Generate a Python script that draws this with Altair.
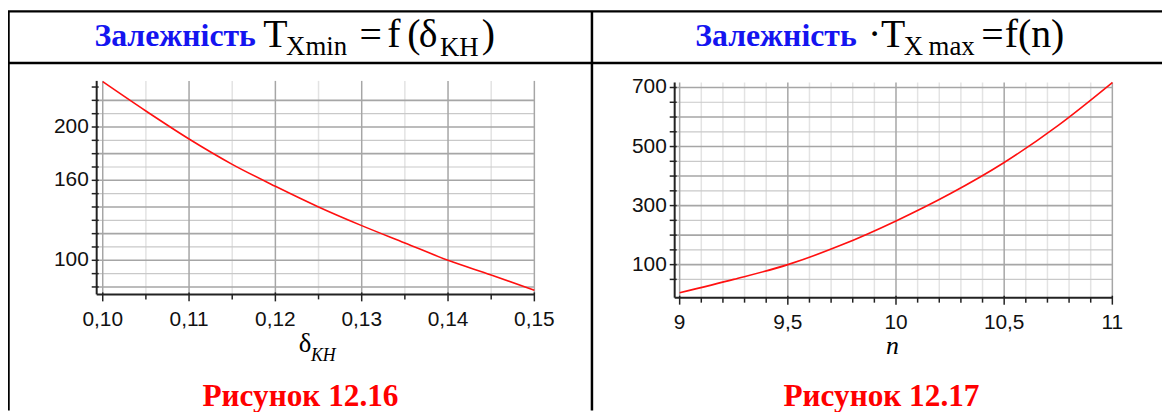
import altair as alt
import pandas as pd

# ---------------- data ----------------
# left panel: T_Xmin = f(delta_KH)
delta_kh = [0.100, 0.105, 0.110, 0.115, 0.120, 0.125, 0.130, 0.135, 0.140, 0.145, 0.150]
t_xmin = [234, 212, 191, 172, 155.5, 140, 126, 113, 100, 89, 77.5]

# right panel: T_Xmax = f(n)
n_vals = [9.0, 9.25, 9.5, 9.75, 10.0, 10.25, 10.5, 10.75, 11.0]
t_xmax = [5, 50, 100, 167, 248, 340, 446, 572, 717]

# left panel axes
a_x_domain = [0.0993, 0.150]
a_y_domain = [74.4, 234.6]
a_x_major = [0.10, 0.11, 0.12, 0.13, 0.14, 0.15]
a_x_major_text = ["0,10", "0,11", "0,12", "0,13", "0,14", "0,15"]
a_x_minor = [0.105, 0.115, 0.125, 0.135, 0.145]
a_y_grid_major = [80, 100, 120, 140, 160, 180, 200, 220]
a_y_grid_minor = [90, 110, 130, 150, 170, 190, 210]
a_y_ticks = [80, 90, 100, 110, 120, 130, 140, 150, 160, 170, 180, 190, 200, 210, 220, 230]
a_y_label_vals = [100, 160, 200]
a_y_label_text = ["100", "160", "200"]

# right panel axes
b_x_domain = [8.977, 11.0]
b_y_domain = [-12, 717]
b_x_major = [9.0, 9.5, 10.0, 10.5, 11.0]
b_x_major_text = ["9", "9,5", "10", "10,5", "11"]
b_x_minor = [9.1, 9.2, 9.3, 9.4, 9.6, 9.7, 9.8, 9.9, 10.1, 10.2, 10.3, 10.4,
             10.6, 10.7, 10.8, 10.9]
b_y_grid_major = [100, 200, 300, 400, 500, 600, 700]
b_y_grid_minor = [50, 150, 250, 350, 450, 550, 650]
b_y_ticks = [50, 100, 150, 200, 250, 300, 350, 400, 450, 500, 550, 600, 650, 700]
b_y_label_vals = [100, 300, 500, 700]
b_y_label_text = ["100", "300", "500", "700"]

# ---------------- layout (chart pixel coordinates) ----------------
W, H = 1162, 404
A_XRANGE = [89.3, 530.0]
A_YRANGE = [287.0, 72.0]
B_XRANGE = [671.3, 1112.0]
B_YRANGE = [290.3, 73.6]

MAJ_GRID = "#a6a6a6"
MIN_GRID = "#e3e3e3"
AXIS_COL = "#222222"
LABEL_FONT = "Liberation Sans"
SERIF = "Liberation Serif"


def panel(xs, ys, xdom, ydom, xrng, yrng, xmaj, xmaj_text, xmin, ygmaj, ygmin,
          yticks, ylab_vals, ylab_text):
    sx = alt.Scale(domain=xdom, range=xrng, zero=False, nice=False)
    sy = alt.Scale(domain=ydom, range=yrng, zero=False, nice=False)

    def X(f):
        return alt.X(f, type="quantitative", scale=sx, axis=None)

    def Y(f):
        return alt.Y(f, type="quantitative", scale=sy, axis=None)

    vmin = pd.DataFrame({"v": xmin, "lo": ydom[0], "hi": ydom[1]})
    vmaj = pd.DataFrame({"v": xmaj, "lo": ydom[0], "hi": ydom[1], "t": xmaj_text})
    hmin = pd.DataFrame({"v": ygmin, "lo": xdom[0], "hi": xdom[1]})
    hmaj = pd.DataFrame({"v": ygmaj, "lo": xdom[0], "hi": xdom[1]})
    yt = pd.DataFrame({"v": yticks})
    yl = pd.DataFrame({"v": ylab_vals, "t": ylab_text})
    curve = pd.DataFrame({"x": xs, "y": ys})
    axes_df = pd.DataFrame({"x0": [xdom[0]], "x1": [xdom[1]], "y0": [ydom[0]], "y1": [ydom[1]]})

    layers = [
        alt.Chart(vmin).mark_rule(color=MIN_GRID, strokeWidth=1.5).encode(x=X("v"), y=Y("lo"), y2="hi"),
        alt.Chart(hmin).mark_rule(color="#c9c9c9", strokeWidth=1.2).encode(y=Y("v"), x=X("lo"), x2="hi"),
        alt.Chart(vmaj).mark_rule(color=MAJ_GRID, strokeWidth=1.5).encode(x=X("v"), y=Y("lo"), y2="hi"),
        alt.Chart(hmaj).mark_rule(color=MAJ_GRID, strokeWidth=1.6).encode(y=Y("v"), x=X("lo"), x2="hi"),
        alt.Chart(curve).mark_line(color="#ff1010", strokeWidth=1.6, interpolate="monotone").encode(
            x=X("x"), y=Y("y")),
        # axis lines
        alt.Chart(axes_df).mark_rule(color=AXIS_COL, strokeWidth=2).encode(x=X("x0"), y=Y("y0"), y2="y1"),
        alt.Chart(axes_df).mark_rule(color=AXIS_COL, strokeWidth=2).encode(y=Y("y0"), x=X("x0"), x2="x1"),
        # x ticks
        alt.Chart(vmin).mark_rule(color=AXIS_COL, strokeWidth=1.5).encode(
            x=X("v"), y=alt.value(yrng[0]), y2=alt.value(yrng[0] + 5)),
        alt.Chart(vmaj).mark_rule(color=AXIS_COL, strokeWidth=1.5).encode(
            x=X("v"), y=alt.value(yrng[0] - 2), y2=alt.value(yrng[0] + 7)),
        # y ticks
        alt.Chart(yt).mark_rule(color=AXIS_COL, strokeWidth=1.5).encode(
            y=Y("v"), x=alt.value(xrng[0] - 5), x2=alt.value(xrng[0] + 2)),
        # tick labels
        alt.Chart(vmaj).mark_text(font=LABEL_FONT, fontSize=21, color="#111111", baseline="middle",
                                  align="center").encode(x=X("v"), y=alt.value(yrng[0] + 26), text="t:N"),
        alt.Chart(yl).mark_text(font=LABEL_FONT, fontSize=21, color="#111111", baseline="middle",
                                align="right").encode(y=Y("v"), x=alt.value(xrng[0] - 8), text="t:N"),
    ]
    return alt.layer(*layers)


left = panel(delta_kh, t_xmin, a_x_domain, a_y_domain, A_XRANGE, A_YRANGE, a_x_major, a_x_major_text,
             a_x_minor, a_y_grid_major, a_y_grid_minor, a_y_ticks, a_y_label_vals, a_y_label_text)
right = panel(n_vals, t_xmax, b_x_domain, b_y_domain, B_XRANGE, B_YRANGE, b_x_major, b_x_major_text,
              b_x_minor, b_y_grid_major, b_y_grid_minor, b_y_ticks, b_y_label_vals, b_y_label_text)

# ---------------- decoration: table borders, headers, titles, captions ----------------
one = pd.DataFrame({"k": [0]})


def txt(s, x, y, size, color="black", weight="normal", style="normal", align="left", font=SERIF):
    return alt.Chart(one).mark_text(text=s, font=font, fontSize=size, fontWeight=weight, fontStyle=style,
                                    color=color, align=align, baseline="alphabetic").encode(
        x=alt.value(x), y=alt.value(y))


def line(x1, y1, x2, y2, w=2.5):
    return alt.Chart(one).mark_rule(color="black", strokeWidth=w).encode(
        x=alt.value(x1), x2=alt.value(x2), y=alt.value(y1), y2=alt.value(y2))


BLUE = "#1414f0"
RED = "#ff0000"
deco = [
    line(0, 2, W, 2), line(0, 54, W, 54),
    line(0.5, 2, 0.5, H), line(588, 2, 588, H),
    # left header
    txt("Залежність", 87, 37, 32, BLUE, "bold"),
    txt("T", 257, 37.7, 40),
    txt("Xmin", 280, 46, 27),
    txt("=", 354, 38.5, 40),
    txt("f", 382, 37.7, 40),
    txt("(", 402, 37.7, 40),
    txt("δ", 413.5, 37.7, 40),
    txt("KH", 435, 47, 27),
    txt(")", 477, 37.7, 40),
    # right header
    txt("Залежність", 692, 37, 32, BLUE, "bold"),
    txt("·", 866, 37.7, 40),
    txt("T", 879, 37.7, 40),
    txt("X", 902, 46, 27),
    txt("max", 927, 46, 27),
    txt("=", 980, 38.5, 40),
    txt("f(n)", 1003.7, 37.7, 40),
    # axis titles
    txt("δ", 292.7, 345, 27),
    txt("KH", 305, 353.7, 18, style="italic"),
    txt("n", 890.7, 347, 26, style="italic", align="center"),
    # captions
    txt("Рисунок 12.16", 294.5, 399.3, 31.5, RED, "bold", align="center"),
    txt("Рисунок 12.17", 879.5, 399.3, 31.5, RED, "bold", align="center"),
]

chart = alt.layer(*deco, left, right).resolve_scale(x="independent", y="independent").properties(
    width=W, height=H, autosize="none", padding=0, background="white"
).configure_view(stroke=None)

chart.save("out.html", embed_options={"renderer": "svg", "actions": False})
